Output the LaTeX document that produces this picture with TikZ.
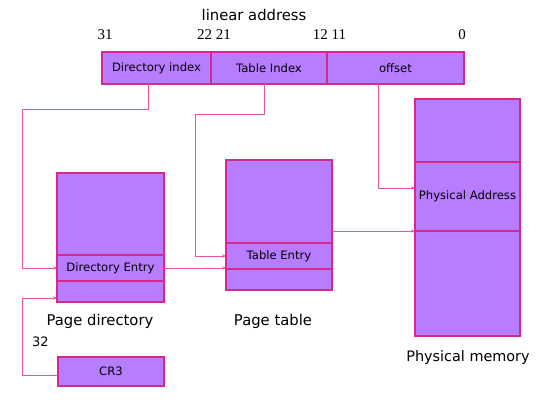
\documentclass[tikz,border=0pt]{standalone}
\usepackage{fontspec}
\usetikzlibrary{positioning,arrows.meta}
\newfontfamily\labelfont{DejaVu Sans}
\newfontfamily\bitfont{Liberation Serif}
\definecolor{boxpurple}{RGB}{184,124,255}
\definecolor{edgemagenta}{RGB}{214,40,140}
\definecolor{linkpink}{RGB}{232,86,158}

\tikzset{
  cell/.style={draw=edgemagenta, fill=boxpurple, line width=1.2pt, inner sep=0pt, outer sep=0pt,
    font=\labelfont\fontsize{11.6}{13}\selectfont},
  link/.style={draw=linkpink, line width=0.9pt, -{Stealth[length=4pt,width=3.5pt]}},
  caption/.style={font=\labelfont\fontsize{14.8}{17}\selectfont},
  bits/.style={font=\bitfont\fontsize{15}{17}\selectfont}
}

\begin{document}
\begin{tikzpicture}[x=1pt, y=-1pt]
  \useasboundingbox (0,0) rectangle (559,414);

  % linear address
  \node[caption] (title) at (254,15) {linear address};
  \node[bits] (b31) at (105,35) {31};
  \node[bits] (b22) at (214,35) {22 21};
  \node[bits] (b12) at (329.5,35) {12 11};
  \node[bits] (b0) at (462,35) {0};

  \node[cell, minimum width=109, minimum height=32] (dirIdx) at (156.5,68) {Directory index};
  \node[cell, minimum width=116, minimum height=32, right=0pt of dirIdx] (tblIdx) {Table Index};
  \node[cell, minimum width=137, minimum height=32, right=0pt of tblIdx] (offs) {offset};

  % page directory
  \node[cell, minimum width=107, minimum height=129] (pgdir) at (110.5,237.5) {};
  \node[cell, minimum width=107, minimum height=26, above=21pt of pgdir.south] (dirEnt) {Directory Entry};
  \node[caption] (pgdirLbl) at (100,321) {Page directory};

  % page table
  \node[cell, minimum width=106, minimum height=130] (pgtbl) at (279,225) {};
  \node[cell, minimum width=106, minimum height=26, above=21pt of pgtbl.south] (tblEnt) {Table Entry};
  \node[caption] (pgtblLbl) at (273,321) {Page table};

  % physical memory
  \node[cell, minimum width=105, minimum height=237] (physmem) at (467.5,217.5) {};
  \node[cell, minimum width=105, minimum height=69, below=63pt of physmem.north] (physAddr) {Physical Address};
  \node[caption, font=\labelfont\fontsize{14.4}{16}\selectfont] (physLbl) at (468,358) {Physical memory};

  % CR3
  \node[cell, minimum width=106, minimum height=29] (cr3) at (111,371.5) {CR3};
  \node[caption, font=\labelfont\fontsize{13}{15}\selectfont] (cr3Bits) at (40.5,342) {32};

  \coordinate (bendDir) at (22,109);
  \coordinate (bendTbl) at (195,114);

  \draw[link] ([xshift=-8.5pt]dirIdx.south) |- (bendDir) |- (dirEnt.west);
  \draw[link] ([xshift=-5pt]tblIdx.south) |- (bendTbl) |- (tblEnt.west);
  \draw[link] ([xshift=-17.5pt]offs.south) |- ([yshift=-26pt]physAddr.north west);
  \draw[link] (dirEnt.east) -- (dirEnt.east -| pgtbl.west);
  \draw[link] (pgtbl.east |- physAddr.south west) -- (physAddr.south west);
  \draw[link] ([yshift=-3.5pt]cr3.west) -- ++(-36,0) |- ([yshift=4pt]pgdir.south west);
\end{tikzpicture}
\end{document}
